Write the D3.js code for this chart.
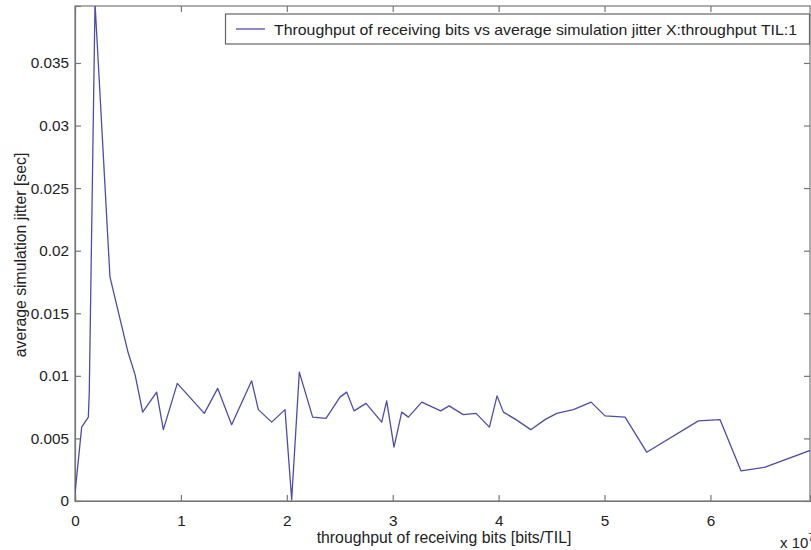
<!DOCTYPE html>
<html>
<head>
<meta charset="utf-8">
<title>jitter vs throughput</title>
<script src="https://cdnjs.cloudflare.com/ajax/libs/d3/7.8.5/d3.min.js"></script>
<style>
  body { margin: 0; background: #fff; }
  text { font-family: "Liberation Sans", Arial, sans-serif; fill: #222; }
</style>
</head>
<body>
<div id="chart"></div>
<script>
// throughput (x 10^7 bits/TIL) and average jitter (sec)
var throughput = [0, 0.063, 0.126, 0.135, 0.189, 0.33, 0.50, 0.567, 0.639, 0.771, 0.834, 0.966,
  1.221, 1.347, 1.479, 1.668, 1.731, 1.857, 1.983, 2.046, 2.118, 2.244, 2.370, 2.502, 2.565,
  2.635, 2.748, 2.896, 2.943, 3.012, 3.085, 3.148, 3.274, 3.453, 3.532, 3.667, 3.787, 3.913,
  3.985, 4.045, 4.164, 4.303, 4.438, 4.548, 4.706, 4.873, 5.005, 5.194, 5.398, 5.886, 6.091,
  6.289, 6.516, 6.96];
var jitter = [0.0006, 0.0059, 0.0067, 0.0088, 0.0398, 0.0179, 0.0119, 0.0101, 0.0071, 0.0087, 0.0057, 0.0094,
  0.0070, 0.0090, 0.0061, 0.0096, 0.0073, 0.0063, 0.0073, 0.0001, 0.0103, 0.0067, 0.0066, 0.0083, 0.0087,
  0.0072, 0.0078, 0.0063, 0.0080, 0.0043, 0.0071, 0.0067, 0.0079, 0.0072, 0.0076, 0.0069, 0.0070, 0.0059,
  0.0084, 0.0071, 0.0065, 0.0057, 0.0065, 0.0070, 0.0073, 0.0079, 0.0068, 0.0067, 0.0039, 0.0064, 0.0065,
  0.0024, 0.0027, 0.0041];
var xTicks = [0, 1, 2, 3, 4, 5, 6];
var yTicks = [0, 0.005, 0.01, 0.015, 0.02, 0.025, 0.03, 0.035];
var legendLabel = "Throughput of receiving bits vs average simulation jitter X:throughput TIL:1";

var W = 811, H = 550;
var pLeft = 75, pRight = 810, pTop = 6, pBottom = 501;

var svg = d3.select("#chart").append("svg")
    .attr("width", W).attr("height", H);

var x = d3.scaleLinear().domain([0, 6.94]).range([pLeft, pRight]);
var y = d3.scaleLinear().domain([0, 0.03955]).range([pBottom, pTop]);

svg.append("clipPath").attr("id", "plot")
   .append("rect").attr("x", pLeft).attr("y", pTop)
   .attr("width", pRight - pLeft).attr("height", pBottom - pTop);

// axes, MATLAB style: ticks inside, mirrored on top and right
var tickLen = 6;
var axisColor = "#777";

var bottomAxis = svg.append("g").attr("transform", "translate(0," + pBottom + ")")
    .call(d3.axisBottom(x).tickValues(xTicks).tickSize(-tickLen).tickPadding(tickLen + 8)
          .tickFormat(d3.format("d")));
var topAxis = svg.append("g").attr("transform", "translate(0," + pTop + ")")
    .call(d3.axisTop(x).tickValues(xTicks).tickSize(-tickLen).tickFormat(""));
var leftAxis = svg.append("g").attr("transform", "translate(" + pLeft + ",0)")
    .call(d3.axisLeft(y).tickValues(yTicks).tickSize(-tickLen).tickPadding(tickLen + 0)
          .tickFormat(d => d === 0 ? "0" : String(+d.toFixed(3))));
var rightAxis = svg.append("g").attr("transform", "translate(" + pRight + ",0)")
    .call(d3.axisRight(y).tickValues(yTicks).tickSize(-tickLen).tickFormat(""));

[bottomAxis, topAxis, leftAxis, rightAxis].forEach(function (g) {
  g.selectAll("path, line").attr("stroke", axisColor).attr("stroke-width", 1.2);
  g.selectAll("text").attr("font-size", "15.3px").attr("fill", "#1a1a1a")
    .attr("font-family", "'Liberation Sans', Arial, sans-serif");
});
topAxis.select("path").remove();
rightAxis.select("path").remove();
svg.append("rect").attr("x", pLeft).attr("y", pTop)
   .attr("width", pRight - pLeft).attr("height", pBottom - pTop)
   .attr("fill", "none").attr("stroke", axisColor).attr("stroke-width", 1.2);

// data line
var line = d3.line().x((d, i) => x(throughput[i])).y(d => y(d));
svg.append("path")
   .datum(jitter)
   .attr("clip-path", "url(#plot)")
   .attr("d", line)
   .attr("fill", "none")
   .attr("stroke", "#4d4da6")
   .attr("stroke-width", 1.3)
   .attr("stroke-linejoin", "round");

// legend
var lg = svg.append("g");
lg.append("rect").attr("x", 225.5).attr("y", 14).attr("width", 584).attr("height", 30)
  .attr("fill", "#fff").attr("stroke", "#666").attr("stroke-width", 1.2);
lg.append("line").attr("x1", 236).attr("x2", 265).attr("y1", 29).attr("y2", 29)
  .attr("stroke", "#4d4da6").attr("stroke-width", 1.3);
lg.append("text").attr("x", 274).attr("y", 34.5).attr("font-size", "14.5px")
  .attr("textLength", 523).attr("lengthAdjust", "spacingAndGlyphs")
  .text(legendLabel);

// axis titles
svg.append("text").attr("x", 444).attr("y", 543).attr("text-anchor", "middle")
   .attr("font-size", "15.8px").text("throughput of receiving bits [bits/TIL]");
svg.append("text").attr("transform", "translate(26,255) rotate(-90)")
   .attr("text-anchor", "middle").attr("font-size", "15.8px")
   .text("average simulation jitter [sec]");
var mult = svg.append("text").attr("x", 780).attr("y", 548).attr("font-size", "15px");
mult.append("tspan").text("x 10");
mult.append("tspan").attr("dy", -7).attr("font-size", "10px").text("7");
</script>
</body>
</html>
